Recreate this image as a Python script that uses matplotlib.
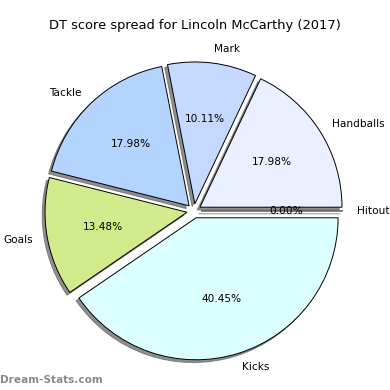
import matplotlib
matplotlib.use("Agg")
import matplotlib.pyplot as plt

categories = ["Hitout", "Handballs", "Mark", "Tackle", "Goals", "Kicks"]
values = [0, 16, 9, 16, 12, 36]
colors = ["#ffffff", "#eaf0ff", "#c5d8ff", "#b3d4ff", "#d0ea8c", "#dcffff"]
title = "DT score spread for Lincoln McCarthy (2017)"

fig = plt.figure(figsize=(3.9, 3.9), dpi=100)
r = 142
half = 1.25 * r
cx, cy = 194, 390 - 211
ax = fig.add_axes([(cx - half) / 390, (cy - half) / 390, 2 * half / 390, 2 * half / 390])
wedges, texts, autotexts = ax.pie(
    values, labels=categories, colors=colors, explode=[0.05] * len(values),
    autopct="%1.2f%%", shadow={"ox": -0.014, "oy": -0.014, "color": "#606060", "alpha": 0.7},
    startangle=0,
    wedgeprops=dict(edgecolor="black", linewidth=0.7),
    textprops=dict(fontsize=7.6))
ax.set_aspect("equal")
fig.text(0.5, 1 - 25 / 390, title, ha="center", va="center", fontsize=9.35)
fig.text(0.0, 1 - 380 / 390, "Dream-Stats.com", ha="left", va="center",
         fontsize=7.6, color="#8a8a8a", fontweight="bold")
fig.savefig("out.png", dpi=100)
